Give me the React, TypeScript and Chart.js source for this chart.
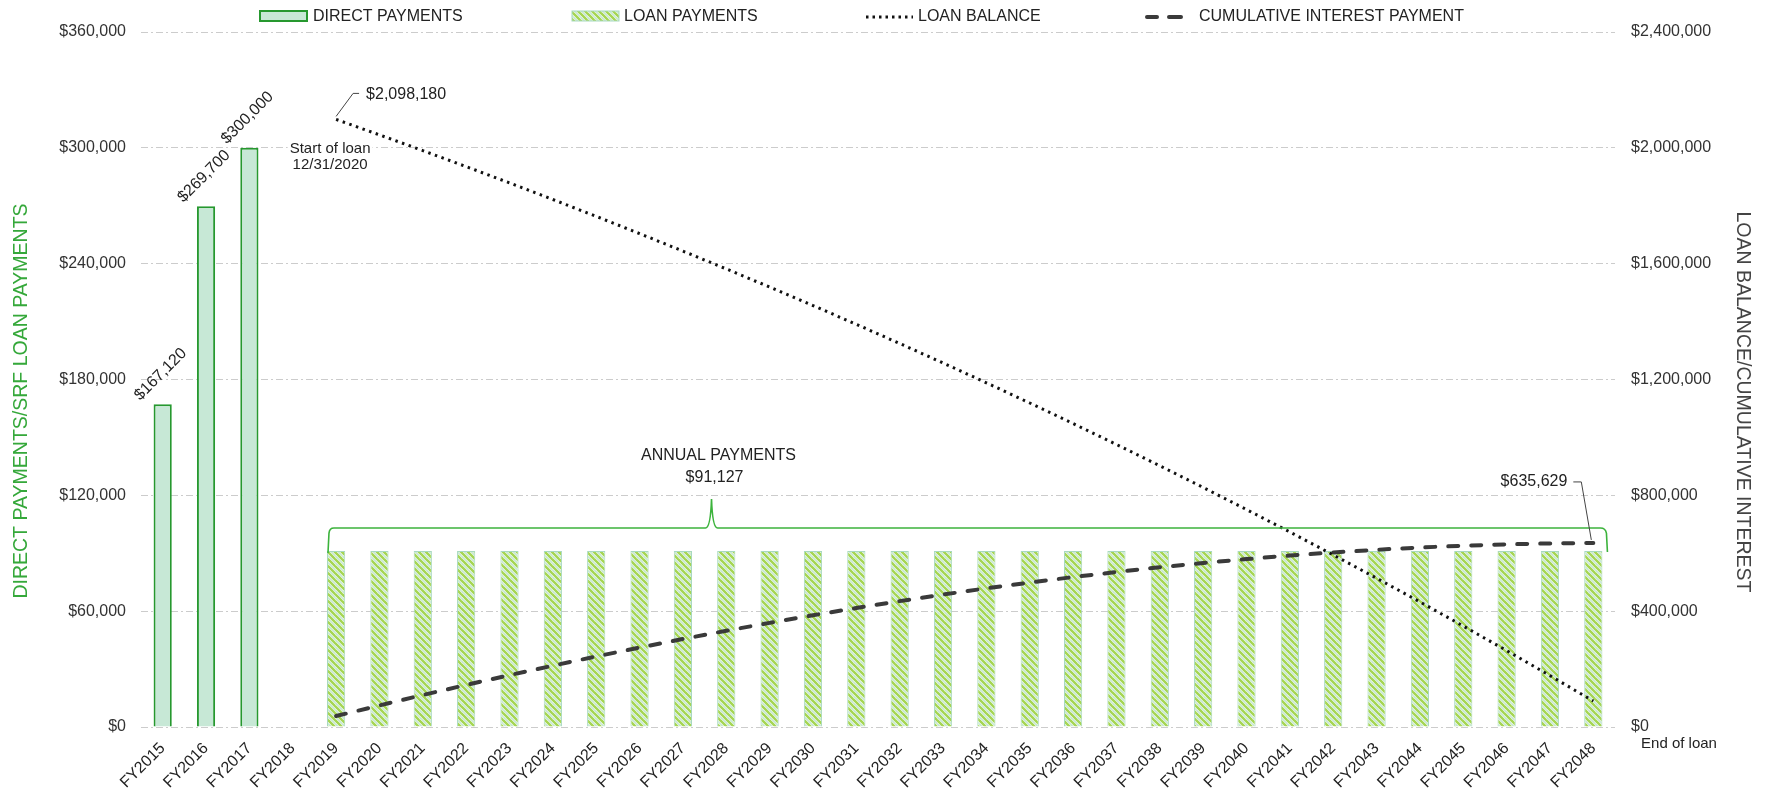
import { useEffect, useRef } from 'react';
import { Chart, registerables } from 'chart.js';

Chart.register(...registerables);

const FONT = "'Liberation Sans', Arial, Helvetica, sans-serif";

const fiscalYears = [
  'FY2015', 'FY2016', 'FY2017', 'FY2018', 'FY2019', 'FY2020', 'FY2021', 'FY2022', 'FY2023',
  'FY2024', 'FY2025', 'FY2026', 'FY2027', 'FY2028', 'FY2029', 'FY2030', 'FY2031', 'FY2032',
  'FY2033', 'FY2034', 'FY2035', 'FY2036', 'FY2037', 'FY2038', 'FY2039', 'FY2040', 'FY2041',
  'FY2042', 'FY2043', 'FY2044', 'FY2045', 'FY2046', 'FY2047', 'FY2048',
];

const directPayments = [
  167120, 269700, 300000, null, null, null, null, null, null,
  null, null, null, null, null, null, null, null, null,
  null, null, null, null, null, null, null, null, null,
  null, null, null, null, null, null, null,
];

const loanPayments = [
  null, null, null, null, 91127, 91127, 91127, 91127, 91127,
  91127, 91127, 91127, 91127, 91127, 91127, 91127, 91127, 91127,
  91127, 91127, 91127, 91127, 91127, 91127, 91127, 91127, 91127,
  91127, 91127, 91127, 91127, 91127, 91127, 91127,
];

const loanBalance = [
  null, null, null, null, 2098180, 2044820, 1990500, 1935200, 1878910,
  1821600, 1763260, 1703880, 1643420, 1581870, 1519220, 1455440, 1390510, 1324410,
  1257120, 1188620, 1118900, 1047910, 975640, 902080, 827180, 750950, 673340,
  594330, 513900, 432020, 348670, 263820, 177440, 89510,
];

const cumulativeInterest = [
  null, null, null, null, 37770, 74570, 110400, 145240, 179060,
  211850, 243580, 274250, 303830, 332310, 359650, 385850, 410880, 434720,
  457350, 478750, 498890, 517750, 535310, 551540, 566430, 579950, 592070,
  602770, 612020, 619790, 626070, 630820, 634010, 635629,
];

const leftTicks = [0, 60000, 120000, 180000, 240000, 300000, 360000];
const rightTicks = [0, 400000, 800000, 1200000, 1600000, 2000000, 2400000];

const legendLabels = ['DIRECT PAYMENTS', 'LOAN PAYMENTS', 'LOAN BALANCE', 'CUMULATIVE INTEREST PAYMENT'];
const leftTitle = 'DIRECT PAYMENTS/SRF LOAN PAYMENTS';
const rightTitle = 'LOAN BALANCE/CUMULATIVE INTEREST';
const startNote = ['Start of loan', '12/31/2020'];
const endNote = 'End of loan';
const annualNote = 'ANNUAL PAYMENTS';

const GREEN_FILL = '#c7e8d6';
const GREEN_EDGE = '#26982f';
const HATCH_EDGE = '#a8d9bf';
const BRACKET = '#3cb33c';
const TEXT = '#222222';

const money = (v: number) => '$' + v.toLocaleString('en-US');

function makeHatch(): CanvasPattern | string {
  const s = 7;
  const c = document.createElement('canvas');
  c.width = s;
  c.height = s;
  const g = c.getContext('2d');
  if (!g) return '#cfe8b0';
  g.fillStyle = '#ffffff';
  g.fillRect(0, 0, s, s);
  const stripe = (off: number, color: string, w: number) => {
    g.strokeStyle = color;
    g.lineWidth = w;
    for (const k of [-s, 0, s]) {
      g.beginPath();
      g.moveTo(k + off - 2, -2);
      g.lineTo(k + off + s + 2, s + 2);
      g.stroke();
    }
  };
  stripe(0, '#a5d653', 2.6);
  stripe(s / 2, '#c3e6d2', 1.4);
  return g.createPattern(c, 'repeat') || '#cfe8b0';
}

export default function App() {
  const ref = useRef<HTMLCanvasElement | null>(null);

  useEffect(() => {
    document.body.style.margin = '0';
    const canvas = ref.current;
    if (!canvas) return;
    const hatch = makeHatch();

    const overlay = {
      id: 'overlay',
      afterDatasetsDraw(chart: any) {
        const { ctx, chartArea } = chart;
        ctx.save();
        ctx.fillStyle = TEXT;
        ctx.font = `16px ${FONT}`;

        // rotated value labels above the direct payment bars
        const dMeta = chart.getDatasetMeta(0);
        directPayments.forEach((v, i) => {
          if (v == null) return;
          const el = dMeta.data[i];
          ctx.save();
          ctx.translate(el.x - 2, el.y - 30);
          ctx.rotate(-Math.PI / 4);
          ctx.textAlign = 'center';
          ctx.textBaseline = 'middle';
          ctx.fillText(money(v), 0, 0);
          ctx.restore();
        });

        // loan balance start callout
        const bMeta = chart.getDatasetMeta(2);
        const first = loanBalance.findIndex((v) => v != null);
        const bp = bMeta.data[first];
        ctx.strokeStyle = '#444';
        ctx.lineWidth = 1;
        ctx.beginPath();
        ctx.moveTo(bp.x, bp.y - 3);
        ctx.lineTo(bp.x + 17, bp.y - 26);
        ctx.lineTo(bp.x + 23, bp.y - 26);
        ctx.stroke();
        ctx.textAlign = 'left';
        ctx.textBaseline = 'middle';
        ctx.fillText(money(loanBalance[first] as number), bp.x + 30, bp.y - 25);

        // start of loan note
        ctx.font = `15px ${FONT}`;
        ctx.textAlign = 'center';
        const nx = bp.x - 6;
        const w0 = Math.max(ctx.measureText(startNote[0]).width, ctx.measureText(startNote[1]).width);
        ctx.fillStyle = '#ffffff';
        ctx.fillRect(nx - w0 / 2 - 2, bp.y + 20, w0 + 4, 34);
        ctx.fillStyle = TEXT;
        ctx.fillText(startNote[0], nx, bp.y + 29);
        ctx.fillText(startNote[1], nx, bp.y + 45);

        // bracket over the annual loan payments
        const lMeta = chart.getDatasetMeta(1);
        const li = loanPayments.findIndex((v) => v != null);
        let lj = loanPayments.length - 1;
        while (loanPayments[lj] == null) lj--;
        const a = lMeta.data[li];
        const b = lMeta.data[lj];
        const leftX = a.x - a.width / 2 + 1;
        const rightX = b.x + b.width / 2 + 4;
        const top = a.y;
        const by = top - 23;
        const px = leftX + 0.3 * (rightX - leftX);
        ctx.strokeStyle = BRACKET;
        ctx.lineWidth = 1.6;
        ctx.beginPath();
        ctx.moveTo(leftX, top + 2);
        ctx.lineTo(leftX + 1, by + 5);
        ctx.quadraticCurveTo(leftX + 1.5, by, leftX + 6, by);
        ctx.lineTo(px - 6, by);
        ctx.quadraticCurveTo(px - 1, by, px, by - 29);
        ctx.quadraticCurveTo(px + 1, by, px + 6, by);
        ctx.lineTo(rightX - 6, by);
        ctx.quadraticCurveTo(rightX - 1, by, rightX, by + 5);
        ctx.lineTo(rightX + 1, top + 1);
        ctx.stroke();

        ctx.font = `16px ${FONT}`;
        ctx.fillStyle = TEXT;
        ctx.textAlign = 'center';
        ctx.fillText(annualNote, px + 7, by - 72);
        ctx.fillText(money(loanPayments[li] as number), px + 3, by - 50);

        // cumulative interest end callout
        const cMeta = chart.getDatasetMeta(3);
        const ci = cumulativeInterest.length - 1;
        const cp = cMeta.data[ci];
        ctx.strokeStyle = '#444';
        ctx.lineWidth = 1;
        ctx.beginPath();
        ctx.moveTo(cp.x - 2, cp.y - 3);
        ctx.lineTo(cp.x - 12, cp.y - 61);
        ctx.lineTo(cp.x - 20, cp.y - 61);
        ctx.stroke();
        ctx.textAlign = 'right';
        ctx.fillText(money(cumulativeInterest[ci] as number), cp.x - 26, cp.y - 61);

        // end of loan note under the right axis
        ctx.font = `15px ${FONT}`;
        ctx.textAlign = 'center';
        ctx.fillText(endNote, chartArea.right + 64, chartArea.bottom + 17);
        ctx.restore();
      },
      afterDraw(chart: any) {
        const { ctx } = chart;
        ctx.save();
        // axis titles
        ctx.font = `19.5px ${FONT}`;
        ctx.textAlign = 'center';
        ctx.textBaseline = 'middle';
        ctx.save();
        ctx.translate(22, 401);
        ctx.rotate(-Math.PI / 2);
        ctx.fillStyle = '#35a83a';
        ctx.fillText(leftTitle, 0, 0);
        ctx.restore();
        ctx.save();
        ctx.translate(1742, 402);
        ctx.rotate(Math.PI / 2);
        ctx.fillStyle = '#444444';
        ctx.fillText(rightTitle, 0, 0);
        ctx.restore();

        // legend row
        const ly = 16;
        ctx.font = `16px ${FONT}`;
        ctx.textAlign = 'left';
        const starts = [260, 572, 866, 1145];
        const textX = [313, 624, 918, 1199];
        // direct payments swatch
        ctx.fillStyle = GREEN_FILL;
        ctx.fillRect(starts[0], ly - 5, 47, 10);
        ctx.strokeStyle = GREEN_EDGE;
        ctx.lineWidth = 2;
        ctx.strokeRect(starts[0], ly - 5, 47, 10);
        // loan payments swatch
        ctx.fillStyle = hatch as any;
        ctx.fillRect(starts[1], ly - 5, 47, 10);
        ctx.strokeStyle = HATCH_EDGE;
        ctx.lineWidth = 1;
        ctx.strokeRect(starts[1], ly - 5, 47, 10);
        // loan balance swatch
        ctx.strokeStyle = '#111';
        ctx.lineWidth = 3;
        ctx.setLineDash([2.5, 4]);
        ctx.beginPath();
        ctx.moveTo(starts[2], ly + 1);
        ctx.lineTo(starts[2] + 47, ly + 1);
        ctx.stroke();
        // cumulative interest swatch
        ctx.strokeStyle = '#3a3a3a';
        ctx.lineWidth = 4;
        ctx.lineCap = 'round';
        ctx.setLineDash([]);
        ctx.beginPath();
        ctx.moveTo(starts[3] + 2, ly + 1);
        ctx.lineTo(starts[3] + 12, ly + 1);
        ctx.moveTo(starts[3] + 24, ly + 1);
        ctx.lineTo(starts[3] + 36, ly + 1);
        ctx.stroke();
        ctx.fillStyle = TEXT;
        legendLabels.forEach((t, i) => ctx.fillText(t, textX[i], ly + 1));
        ctx.restore();
      },
    };

    const chart = new Chart(canvas, {
      type: 'bar',
      data: {
        labels: fiscalYears,
        datasets: [
          {
            type: 'bar',
            label: legendLabels[0],
            data: directPayments,
            backgroundColor: GREEN_FILL,
            borderColor: GREEN_EDGE,
            borderWidth: 2,
            yAxisID: 'y',
            order: 2,
          },
          {
            type: 'bar',
            label: legendLabels[1],
            data: loanPayments,
            backgroundColor: hatch as any,
            borderColor: HATCH_EDGE,
            borderWidth: 1,
            yAxisID: 'y',
            order: 2,
          },
          {
            type: 'line',
            label: legendLabels[2],
            data: loanBalance,
            borderColor: '#111111',
            borderWidth: 3,
            borderDash: [2.5, 4.5],
            pointRadius: 0,
            tension: 0,
            fill: false,
            spanGaps: false,
            yAxisID: 'y1',
            order: 0,
          },
          {
            type: 'line',
            label: legendLabels[3],
            data: cumulativeInterest,
            borderColor: '#3a3a3a',
            borderWidth: 4,
            borderDash: [10, 13],
            borderCapStyle: 'round',
            pointRadius: 0,
            tension: 0,
            fill: false,
            yAxisID: 'y1',
            order: 0,
          },
        ] as any,
      },
      options: {
        responsive: false,
        animation: false,
        devicePixelRatio: 1,
        layout: { padding: { top: 32, left: 0, right: 0, bottom: 0 } },
        datasets: {
          bar: { grouped: false, barPercentage: 0.42, categoryPercentage: 1 },
        } as any,
        plugins: { legend: { display: false }, tooltip: { enabled: false } },
        scales: {
          x: {
            offset: true,
            grid: { display: false, drawTicks: false },
            border: { display: false },
            ticks: {
              autoSkip: false,
              maxRotation: 45,
              minRotation: 45,
              padding: 12,
              color: TEXT,
              font: { family: FONT, size: 16 },
            },
            afterFit: (s: any) => {
              s.height = 62;
            },
          },
          y: {
            position: 'left',
            min: leftTicks[0],
            max: leftTicks[leftTicks.length - 1],
            afterBuildTicks: (s: any) => {
              s.ticks = leftTicks.map((v) => ({ value: v }));
            },
            grid: { color: '#cccccc', lineWidth: 1, drawTicks: false },
            border: { display: false, dash: [7, 3, 2, 3] },
            ticks: {
              padding: 15,
              color: '#333333',
              font: { family: FONT, size: 16 },
              callback: (v: any) => money(Number(v)),
            },
            afterFit: (s: any) => {
              s.width = 141;
            },
          },
          y1: {
            position: 'right',
            min: rightTicks[0],
            max: rightTicks[rightTicks.length - 1],
            afterBuildTicks: (s: any) => {
              s.ticks = rightTicks.map((v) => ({ value: v }));
            },
            grid: { drawOnChartArea: false, drawTicks: false },
            border: { display: false },
            ticks: {
              padding: 16,
              color: '#333333',
              font: { family: FONT, size: 16 },
              callback: (v: any) => money(Number(v)),
            },
            afterFit: (s: any) => {
              s.width = 152;
            },
          },
        },
      } as any,
      plugins: [overlay],
    });

    return () => chart.destroy();
  }, []);

  return (
    <div style={{ width: 1767, height: 789, background: '#ffffff' }}>
      <canvas ref={ref} width={1767} height={789} style={{ display: 'block' }} />
    </div>
  );
}
